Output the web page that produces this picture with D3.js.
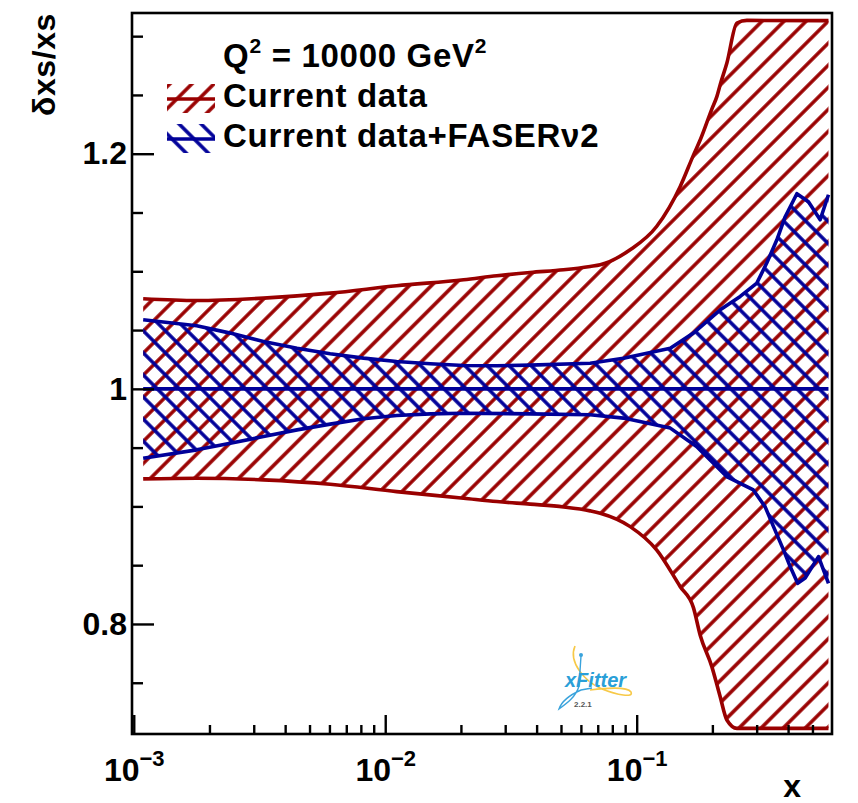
<!DOCTYPE html>
<html>
<head>
<meta charset="utf-8">
<script src="https://cdn.jsdelivr.net/npm/d3@7"></script>
<style>
  body { margin: 0; background: #fff; }
  text { font-family: "Liberation Sans", Arial, sans-serif; font-weight: bold; }
</style>
</head>
<body>
<div id="canvas"></div>
<script>
// Current data band (red)
const redX  = [0.00109, 0.00178, 0.00328, 0.00604, 0.0111, 0.0205, 0.0278, 0.0377, 0.0512, 0.0653, 0.0716, 0.0942, 0.120, 0.149, 0.168, 0.179, 0.199, 0.2085, 0.2148, 0.2284, 0.2503, 0.2743, 0.579];
const redUp = [1.0766, 1.0751, 1.0772, 1.0814, 1.0877, 1.0928, 1.0962, 1.0990, 1.1013, 1.1041, 1.1055, 1.1183, 1.1381, 1.1722, 1.1986, 1.2119, 1.238, 1.2488, 1.2587, 1.2772, 1.3112, 1.3134, 1.3132];
const redLo = [0.9234, 0.9240, 0.9226, 0.9189, 0.9126, 0.9070, 0.9041, 0.9019, 0.8995, 0.8962, 0.8942, 0.8828, 0.8630, 0.8317, 0.8141, 0.7902, 0.7637, 0.7483, 0.7381, 0.7183, 0.7112, 0.7112, 0.7112];

// Current data + FASERnu2 band (blue)
const blueUpX = [0.00109, 0.00178, 0.00242, 0.00328, 0.00446, 0.00604, 0.0082, 0.0111, 0.0151, 0.0205, 0.0278, 0.0377, 0.0653, 0.0886, 0.136, 0.168, 0.215, 0.258, 0.3005, 0.329, 0.361, 0.3895, 0.4335, 0.482, 0.5366, 0.579];
const blueUp  = [1.0587, 1.0536, 1.0474, 1.0403, 1.0346, 1.0298, 1.0261, 1.0232, 1.0213, 1.0198, 1.0196, 1.0202, 1.0218, 1.0261, 1.0346, 1.0474, 1.0672, 1.0786, 1.0900, 1.1070, 1.1268, 1.1464, 1.1660, 1.1591, 1.1438, 1.1651];
const blueLoX = [0.00109, 0.00178, 0.00242, 0.00328, 0.00446, 0.00604, 0.0082, 0.0111, 0.0151, 0.0205, 0.0377, 0.0653, 0.0886, 0.136, 0.173, 0.228, 0.291, 0.324, 0.350, 0.3835, 0.4076, 0.4367, 0.4677, 0.5284, 0.579];
const blueLo  = [0.9410, 0.9481, 0.9538, 0.9594, 0.9651, 0.9700, 0.9745, 0.9773, 0.9787, 0.9793, 0.9787, 0.9780, 0.9751, 0.9666, 0.9509, 0.9254, 0.9140, 0.8998, 0.8828, 0.8630, 0.8488, 0.8346, 0.8391, 0.8573, 0.8346];

// central value line
const centerX = [0.00109, 0.579];
const centerV = [1, 1];

const xMajor = [0.001, 0.01, 0.1];
const xMajorExp = ["\u22123", "\u22122", "\u22121"];
const yMajor = [0.8, 1, 1.2];
const yMinor = [0.75, 0.85, 0.9, 0.95, 1.05, 1.1, 1.15, 1.25, 1.3];

const legendLabels = ["Current data", "Current data+FASER\u03bd2"];

const RED = "#990000";
const BLUE = "#000099";

const width = 858;
const height = 803;
const margin = { top: 13, left: 132, bottom: 69, right: 26 };

const svg = d3.select("#canvas")
  .append("svg")
  .attr("width", width)
  .attr("height", height);

const x = d3.scaleLog()
  .domain([0.000984, 0.598])
  .range([margin.left, width - margin.right]);

const y = d3.scaleLinear()
  .domain([0.7064, 1.3197])
  .range([height - margin.bottom, margin.top]);

// hatch patterns
const defs = svg.append("defs");
const hatch = (id, color, angle) => {
  const p = defs.append("pattern")
    .attr("id", id)
    .attr("patternUnits", "userSpaceOnUse")
    .attr("width", 15.6)
    .attr("height", 15.6)
    .attr("patternTransform", `rotate(${angle})`);
  p.append("line")
    .attr("x1", 7.8).attr("y1", -1)
    .attr("x2", 7.8).attr("y2", 16.6)
    .attr("stroke", color)
    .attr("stroke-width", 3.5);
};
hatch("hatchRed", RED, 45);
hatch("hatchBlue", BLUE, -45);

const zip = (xs, vs) => xs.map((v, i) => [v, vs[i]]);

const drawBand = (xUp, up, xLo, lo, color, pat, curve) => {
  const line = d3.line().x(d => x(d[0])).y(d => y(d[1])).curve(curve);
  const upper = zip(xUp, up);
  const lower = zip(xLo, lo);
  // fill: upper edge forward, lower edge backward
  const fillPath = line(upper) + "L" + line(lower.slice().reverse()).slice(1) + "Z";
  svg.append("path")
    .attr("d", fillPath)
    .attr("fill", `url(#${pat})`)
    .attr("stroke", "none");
  [upper, lower].forEach(pts => {
    svg.append("path")
      .attr("d", line(pts))
      .attr("fill", "none")
      .attr("stroke", color)
      .attr("stroke-width", 3.6)
      .attr("stroke-linejoin", "round");
  });
};

drawBand(redX, redUp, redX, redLo, RED, "hatchRed", d3.curveMonotoneX);
drawBand(blueUpX, blueUp, blueLoX, blueLo, BLUE, "hatchBlue", d3.curveLinear);

svg.append("path")
  .attr("d", d3.line().x(d => x(d[0])).y(d => y(d[1]))(zip(centerX, centerV)))
  .attr("stroke", BLUE)
  .attr("stroke-width", 3.6)
  .attr("fill", "none");

// axes
const yAxis = svg.append("g")
  .attr("transform", `translate(${margin.left},0)`)
  .call(d3.axisLeft(y).tickValues(yMajor).tickSize(-22).tickPadding(5)
    .tickFormat(d3.format("~g")));
svg.append("g")
  .attr("transform", `translate(${margin.left},0)`)
  .call(d3.axisLeft(y).tickValues(yMinor).tickSize(-11).tickFormat(""));

const xMinor = x.ticks().filter(v => !xMajor.some(m => Math.abs(m - v) / m < 1e-6));
const xAxis = svg.append("g")
  .attr("transform", `translate(0,${height - margin.bottom})`)
  .call(d3.axisBottom(x).tickValues(xMajor).tickSize(-19).tickFormat(""));
svg.append("g")
  .attr("transform", `translate(0,${height - margin.bottom})`)
  .call(d3.axisBottom(x).tickValues(xMinor).tickSize(-9).tickFormat(""));

svg.selectAll(".domain").remove();
svg.selectAll(".tick line").attr("stroke", "#000").attr("stroke-width", 2.4);
yAxis.selectAll(".tick text")
  .attr("font-size", 32)
  .attr("fill", "#000")
  .attr("font-family", "Liberation Sans, Arial, sans-serif")
  .attr("font-weight", "bold");

xAxis.selectAll(".tick").each(function(d, i) {
  const t = d3.select(this).append("text")
    .attr("y", 47)
    .attr("text-anchor", "middle")
    .attr("fill", "#000")
    .attr("font-size", 32);
  t.append("tspan").text("10");
  t.append("tspan").attr("dy", -15).attr("font-size", 22).text(xMajorExp[i]);
});

// frame
svg.append("rect")
  .attr("x", margin.left)
  .attr("y", margin.top)
  .attr("width", width - margin.left - margin.right)
  .attr("height", height - margin.top - margin.bottom)
  .attr("fill", "none")
  .attr("stroke", "#000")
  .attr("stroke-width", 2.6);

// axis titles
svg.append("text")
  .attr("transform", "translate(55,13) rotate(-90)")
  .attr("text-anchor", "end")
  .attr("font-size", 32)
  .attr("letter-spacing", 0.6)
  .text("\u03b4xs/xs");

svg.append("text")
  .attr("x", 801)
  .attr("y", 797)
  .attr("text-anchor", "end")
  .attr("font-size", 32)
  .text("x");

// legend
const leg = svg.append("g").attr("letter-spacing", 0.7);
const q = leg.append("text").attr("x", 223).attr("y", 67).attr("font-size", 33);
q.append("tspan").text("Q");
q.append("tspan").attr("dy", -14).attr("font-size", 21).text("2");
q.append("tspan").attr("dy", 14).text(" = 10000 GeV");
q.append("tspan").attr("dy", -14).attr("font-size", 21).text("2");

const legCols = [RED, BLUE];
const legPats = ["hatchRed", "hatchBlue"];
legendLabels.forEach((lab, i) => {
  const top = 84 + i * 40;
  leg.append("rect")
    .attr("x", 167).attr("y", top)
    .attr("width", 48).attr("height", 29)
    .attr("fill", `url(#${legPats[i]})`);
  leg.append("line")
    .attr("x1", 167).attr("x2", 215)
    .attr("y1", top + 15).attr("y2", top + 15)
    .attr("stroke", legCols[i]).attr("stroke-width", 3.6);
  leg.append("text")
    .attr("x", 223).attr("y", top + 23)
    .attr("font-size", 33)
    .text(lab);
});

// xFitter logo
const logo = svg.append("g");
logo.append("path")
  .attr("d", "M575,646 C568,662 585,682 602,689 C617,695 634,698 631,692 C627,686 606,688 590,690")
  .attr("fill", "none").attr("stroke", "#f7c948").attr("stroke-width", 1.6);
logo.append("path")
  .attr("d", "M581,656 L579,686 C576,697 566,704 559,709 C562,700 572,694 581,690 L592,688")
  .attr("fill", "none").attr("stroke", "#3aa3dc").attr("stroke-width", 1.4);
logo.append("circle").attr("cx", 581).attr("cy", 655).attr("r", 2).attr("fill", "#3aa3dc");
logo.append("text")
  .attr("x", 565).attr("y", 687)
  .attr("font-size", 20)
  .attr("font-weight", "normal")
  .attr("font-style", "italic")
  .attr("fill", "#2a9fd8")
  .text("xFitter");
logo.append("text")
  .attr("x", 574).attr("y", 707)
  .attr("font-size", 8)
  .attr("font-weight", "normal")
  .attr("fill", "#555")
  .text("2.2.1");
</script>
</body>
</html>
